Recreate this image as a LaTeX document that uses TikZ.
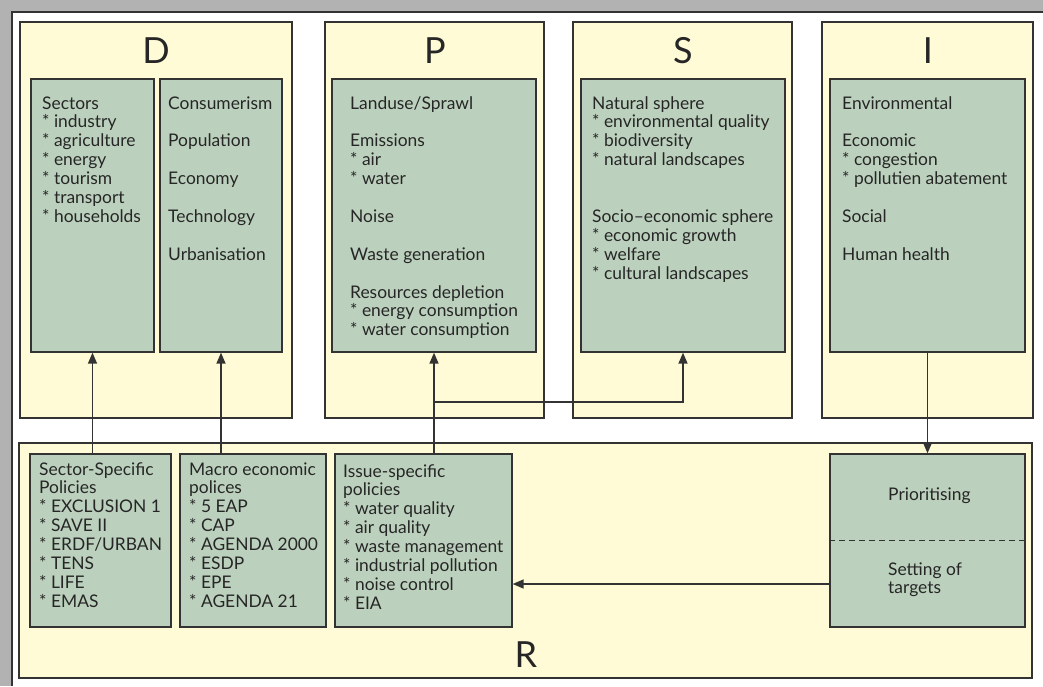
\documentclass[tikz,border=0pt]{standalone}
\usepackage{fontspec}
\setmainfont{Lato}
\usetikzlibrary{arrows.meta,fit}
\definecolor{bandgray}{HTML}{B2B2B2}
\definecolor{boxyellow}{HTML}{FFFBD6}
\definecolor{boxgreen}{HTML}{BCD1BD}
\definecolor{edgecol}{HTML}{333333}
\newcommand\boxtext[2]{\parbox[t]{#1pt}{\raggedright\fontsize{17.4}{18.9}\selectfont #2}}
\newcommand\itm{\mbox{*}\ }
\begin{document}
\begin{tikzpicture}[x=1pt,y=-1pt,
  outerbox/.style={draw=edgecol, line width=1.3pt, fill=boxyellow, inner sep=0pt, fit={#1}},
  innerbox/.style={draw=edgecol, line width=1.3pt, fill=boxgreen, inner sep=0pt, fit={#1}},
  txt/.style={inner sep=0pt, anchor=base west, text=black!85},
  bigletter/.style={inner sep=0pt, anchor=base, font=\fontsize{36}{36}\selectfont, text=black!85},
  conn/.style={draw=edgecol, line width=1.5pt},
  arr/.style={conn, -{Triangle[length=11pt,width=9pt]}}]
\useasboundingbox (0,0) rectangle (1043,686);
% frame
\fill[bandgray] (0,0) rectangle (1043,686);
\fill[white] (12,12) rectangle (1043,686);
\draw[edgecol, line width=1.5pt] (12,686) -- (12,12) -- (1043,12);
% outer boxes
\node[outerbox={(20,22)(292,418)}] (D) {};
\node[outerbox={(325,22)(544,418)}] (P) {};
\node[outerbox={(573,22)(792,418)}] (S) {};
\node[outerbox={(822,22)(1033,418)}] (I) {};
\node[outerbox={(19,443)(1032,678)}] (R) {};
% letters
\node[bigletter] (Dl) at (156,63) {D};
\node[bigletter] (Pl) at (435,63) {P};
\node[bigletter] (Sl) at (683,63) {S};
\node[bigletter] (Il) at (928,63) {I};
\node[bigletter] (Rl) at (526,667) {R};
% inner boxes
\node[innerbox={(31,79)(154,352)}] (Din1) {};
\node[innerbox={(160,79)(282,352)}] (Din2) {};
\node[innerbox={(332,79)(536,352)}] (Pin) {};
\node[innerbox={(581,79)(785,352)}] (Sin) {};
\node[innerbox={(830,79)(1025,352)}] (Iin) {};
\node[innerbox={(30,454)(171,627)}] (R1) {};
\node[innerbox={(180,454)(326,627)}] (R2) {};
\node[innerbox={(335,454)(512,627)}] (R3) {};
\node[innerbox={(830,454)(1025,627)}] (Prio) {};
\draw[edgecol, line width=1pt, dash pattern=on 6pt off 4pt] (Prio.west |- 0,540) -- (Prio.east |- 0,540);
% texts
\node[txt] (Dt1) at (42,109) {\boxtext{112}{Sectors\\ \itm industry\\ \itm agriculture\\ \itm energy\\ \itm tourism\\ \itm transport\\ \itm households}};
\node[txt] (Dt2) at (168,109) {\boxtext{115}{Consumerism\\[18.9pt] Population\\[18.9pt] Economy\\[18.9pt] Technology\\[18.9pt] Urbanisation}};
\node[txt] (Pt) at (350,109) {\boxtext{185}{Landuse/Sprawl\\[18.9pt] Emissions\\ \itm air\\ \itm water\\[18.9pt] Noise\\[18.9pt] Waste generation\\[18.9pt] Resources depletion\\ \itm energy consumption\\ \itm water consumption}};
\node[txt] (St) at (592,109) {\boxtext{192}{Natural sphere\\ \itm environmental quality\\ \itm biodiversity\\ \itm natural landscapes\\[37.8pt] Socio–economic sphere\\ \itm economic growth\\ \itm welfare\\ \itm cultural landscapes}};
\node[txt] (It) at (842,109) {\boxtext{182}{Environmental\\[18.9pt] Economic\\ \itm congestion\\ \itm pollutien abatement\\[18.9pt] Social\\[18.9pt] Human health}};
\node[txt] (R1t) at (39,475) {\boxtext{132}{Sector-Specific\\ Policies\\ \itm EXCLUSION 1\\ \itm SAVE II\\ \itm ERDF/URBAN\\ \itm TENS\\ \itm LIFE\\ \itm EMAS}};
\node[txt] (R2t) at (189,475) {\boxtext{137}{Macro economic\\ polices\\ \itm 5 EAP\\ \itm CAP\\ \itm AGENDA 2000\\ \itm ESDP\\ \itm EPE\\ \itm AGENDA 21}};
\node[txt] (R3t) at (343,477) {\boxtext{168}{Issue-specific\\ policies\\ \itm water quality\\ \itm air quality\\ \itm waste management\\ \itm industrial pollution\\ \itm noise control\\ \itm EIA}};
\node[txt] (Priot) at (888,500) {\boxtext{130}{Prioritising}};
\node[txt] (Sett) at (888,575) {\boxtext{130}{Setting of\\ targets}};
% connectors
\draw[arr] (Din1.south |- R1.north) -- (Din1.south);
\draw[arr] (Din2.south |- R2.north) -- (Din2.south);
\draw[arr] (Pin.south |- R3.north) -- (Pin.south);
\coordinate (split) at (Pin.south |- 0,402);
\draw[arr] (split) -| (Sin.south);
\draw[arr] (Iin.south) -- (Prio.north);
\draw[arr] (Prio.west |- 0,584) -- (R3.east |- 0,584);
\end{tikzpicture}
\end{document}
